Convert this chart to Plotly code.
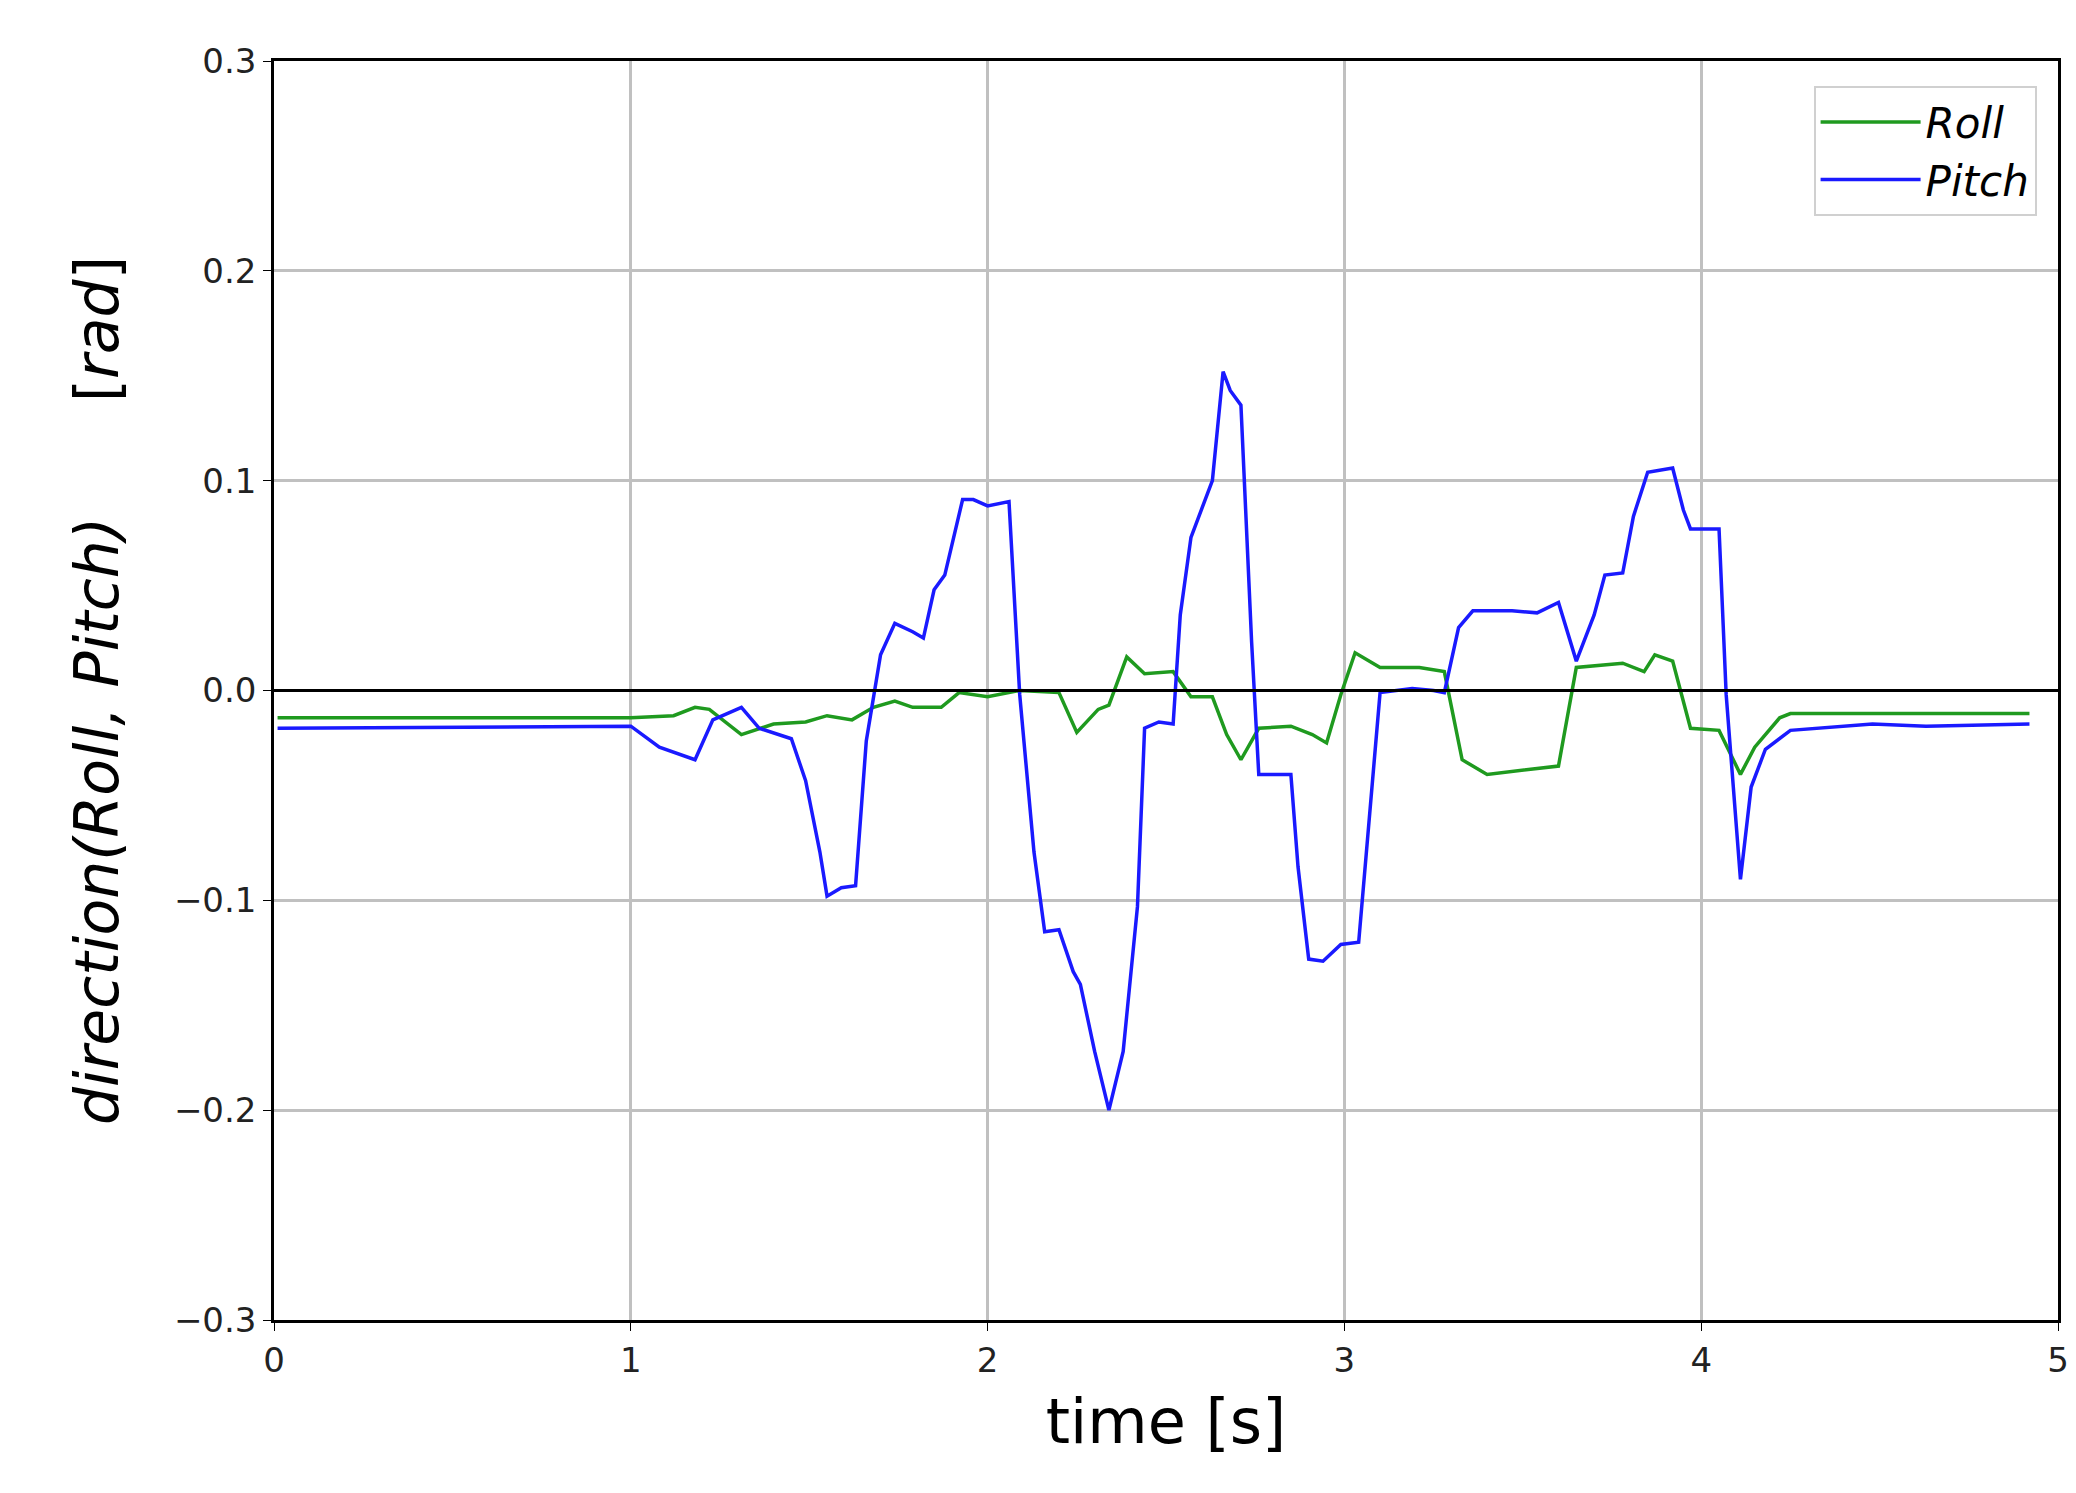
import plotly.graph_objects as go

pitch_t = [0.01, 1.0, 1.08, 1.18, 1.23, 1.31, 1.36, 1.45, 1.49, 1.53, 1.55, 1.59, 1.63, 1.66, 1.70,
           1.74, 1.79, 1.82, 1.85, 1.88, 1.93, 1.96, 2.0, 2.06, 2.09, 2.13, 2.16, 2.20, 2.24, 2.26,
           2.30, 2.34, 2.38, 2.42, 2.44, 2.48, 2.52, 2.54, 2.57, 2.63, 2.66, 2.68, 2.71, 2.74, 2.76,
           2.85, 2.87, 2.90, 2.94, 2.99, 3.04, 3.10, 3.19, 3.25, 3.28, 3.32, 3.36, 3.47, 3.54, 3.60,
           3.65, 3.70, 3.73, 3.78, 3.81, 3.85, 3.92, 3.95, 3.97, 4.05, 4.07, 4.11, 4.14, 4.18, 4.25,
           4.33, 4.48, 4.63, 4.92]
pitch = [-0.018, -0.017, -0.027, -0.033, -0.014, -0.008, -0.018, -0.023, -0.043, -0.077, -0.098,
         -0.094, -0.093, -0.024, 0.017, 0.032, 0.028, 0.025, 0.048, 0.055, 0.091, 0.091, 0.088,
         0.090, -0.002, -0.077, -0.115, -0.114, -0.134, -0.140, -0.172, -0.200, -0.172, -0.103,
         -0.018, -0.015, -0.016, 0.036, 0.073, 0.100, 0.152, 0.143, 0.136, 0.023, -0.040, -0.040,
         -0.084, -0.128, -0.129, -0.121, -0.120, -0.001, 0.001, 0.0, -0.001, 0.030, 0.038, 0.038,
         0.037, 0.042, 0.014, 0.036, 0.055, 0.056, 0.083, 0.104, 0.106, 0.086, 0.077, 0.077,
         -0.002, -0.090, -0.046, -0.028, -0.019, -0.018, -0.016, -0.017, -0.016]

roll_t = [0.01, 1.0, 1.12, 1.18, 1.22, 1.31, 1.40, 1.49, 1.55, 1.62, 1.68, 1.74, 1.79, 1.87, 1.92,
          2.0, 2.09, 2.2, 2.25, 2.31, 2.34, 2.39, 2.44, 2.52, 2.57, 2.63, 2.67, 2.71, 2.76, 2.85,
          2.91, 2.95, 2.99, 3.03, 3.10, 3.21, 3.28, 3.30, 3.33, 3.40, 3.51, 3.60, 3.65, 3.78, 3.84,
          3.87, 3.92, 3.97, 4.05, 4.11, 4.15, 4.22, 4.25, 4.48, 4.92]
roll = [-0.013, -0.013, -0.012, -0.008, -0.009, -0.021, -0.016, -0.015, -0.012, -0.014, -0.008,
        -0.005, -0.008, -0.008, -0.001, -0.003, 0.0, -0.001, -0.020, -0.009, -0.007, 0.016, 0.008,
        0.009, -0.003, -0.003, -0.021, -0.033, -0.018, -0.017, -0.021, -0.025, -0.002, 0.018,
        0.011, 0.011, 0.009, -0.008, -0.033, -0.040, -0.038, -0.036, 0.011, 0.013, 0.009, 0.017,
        0.014, -0.018, -0.019, -0.040, -0.027, -0.013, -0.011, -0.011, -0.011]

x_ticks = [0, 1, 2, 3, 4, 5]
y_ticks = [-0.3, -0.2, -0.1, 0.0, 0.1, 0.2, 0.3]
y_labels = ["\u22120.3", "\u22120.2", "\u22120.1", "0.0", "0.1", "0.2", "0.3"]

fig = go.Figure()
fig.add_trace(go.Scatter(x=roll_t, y=roll, mode="lines", name="<i>Roll</i>",
                         line=dict(color="#1f9a1f", width=3.5)))
fig.add_trace(go.Scatter(x=pitch_t, y=pitch, mode="lines", name="<i>Pitch</i>",
                         line=dict(color="#1a1aff", width=3.5)))

axis_common = dict(showline=True, linecolor="black", linewidth=2.5, mirror=True,
                   showgrid=True, gridcolor="#c0c0c0", gridwidth=2.5,
                   ticks="outside", ticklen=8, tickcolor="black",
                   tickfont=dict(size=34, color="#222"), zeroline=False)

fig.update_layout(
    width=2076, height=1493,
    margin=dict(l=266, r=26, t=53, b=181),
    plot_bgcolor="white", paper_bgcolor="white",
    font=dict(family="DejaVu Sans", color="black"),
    xaxis=dict(range=[0, 5], tickvals=x_ticks,
               title=dict(text="time [s]", font=dict(size=62), standoff=22), **axis_common),
    yaxis=dict(range=[-0.3, 0.3], tickvals=y_ticks, ticktext=y_labels,
               title=dict(text="<i>direction(Roll, Pitch)</i>      [<i>rad</i>]",
                          font=dict(size=60), standoff=36), **axis_common),
    legend=dict(x=0.988, y=0.98, xanchor="right", yanchor="top",
                bordercolor="#d0d0d0", borderwidth=2, bgcolor="white",
                font=dict(size=42), itemwidth=100, tracegroupgap=10),
    showlegend=True,
)
fig.add_hline(y=0, line=dict(color="black", width=3))

fig.write_html("out.html")
